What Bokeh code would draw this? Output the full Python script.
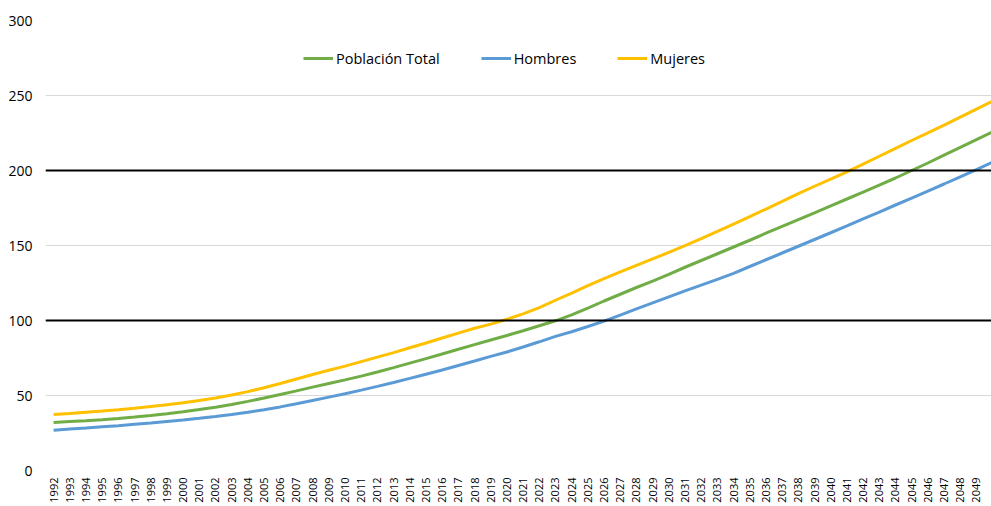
import math
from bokeh.plotting import figure
from bokeh.models import ColumnDataSource, FixedTicker, Span, Legend, LegendItem, Range1d
from bokeh.embed import file_html
from bokeh.resources import INLINE

years = list(range(1992, 2051))

total = [32.0, 32.6, 33.2, 33.9, 34.7, 35.6, 36.7, 37.9, 39.2, 40.6,
         42.2, 44.0, 46.1, 48.3, 50.7, 53.1, 55.6, 58.0, 60.4, 62.9,
         65.7, 68.6, 71.6, 74.6, 77.7, 80.8, 83.9, 87.0, 90.0, 93.2,
         96.5, 99.8, 103.8, 108.2, 113.0, 117.5, 122.0, 126.3, 130.8, 135.5,
         140.0, 144.5, 149.0, 153.5, 158.2, 162.7, 167.3, 171.8, 176.4, 181.0,
         185.6, 190.3, 195.0, 200.0, 205.0, 210.2, 215.4, 220.6, 225.8]

hombres = [26.9, 27.6, 28.3, 29.1, 29.9, 30.8, 31.7, 32.7, 33.7, 34.8,
           36.0, 37.3, 38.8, 40.5, 42.4, 44.5, 46.7, 48.9, 51.2, 53.6,
           56.1, 58.7, 61.4, 64.2, 67.0, 70.0, 73.0, 76.1, 79.0, 82.3,
           85.8, 89.4, 92.5, 96.0, 99.6, 103.6, 107.8, 111.8, 115.8, 119.8,
           123.6, 127.4, 131.4, 136.0, 140.5, 145.0, 149.5, 154.0, 158.5, 163.1,
           167.8, 172.3, 177.0, 181.6, 186.3, 191.0, 195.8, 200.6, 205.6]

mujeres = [37.3, 38.0, 38.8, 39.6, 40.5, 41.5, 42.6, 43.8, 45.1, 46.6,
           48.3, 50.3, 52.6, 55.2, 58.0, 61.0, 64.0, 66.8, 69.6, 72.6,
           75.6, 78.6, 81.8, 85.0, 88.3, 91.6, 94.8, 97.6, 100.8, 104.4,
           108.6, 113.5, 118.3, 123.2, 127.9, 132.4, 136.8, 141.1, 145.4, 149.9,
           154.6, 159.4, 164.3, 169.3, 174.3, 179.4, 184.6, 189.5, 194.3, 199.1,
           204.3, 209.5, 214.8, 220.0, 225.1, 230.3, 235.6, 240.9, 246.3]

series_names = ["Población Total", "Hombres", "Mujeres"]
series_colors = ["#70AD47", "#5B9BD5", "#FFC000"]
ref_levels = [100, 200]
y_ticks = [0, 50, 100, 150, 200, 250, 300]

src = ColumnDataSource(dict(year=years, total=total, hombres=hombres, mujeres=mujeres))

p = figure(width=991, height=506, output_backend="svg", toolbar_location=None,
           x_range=Range1d(1991.5, 2049.93), y_range=Range1d(0, 300),
           min_border_left=45, min_border_right=0, min_border_top=20, min_border_bottom=36)
p.outline_line_color = None
p.background_fill_color = "white"
p.border_fill_color = "white"

# axes
p.xaxis.ticker = FixedTicker(ticks=years)
p.xaxis.major_label_orientation = math.pi / 2
p.xaxis.major_label_text_font = "Open Sans"
p.xaxis.major_label_text_font_size = "11px"
p.xaxis.major_label_text_color = "#000000"
p.xaxis.major_label_standoff = 7
p.xaxis.axis_line_color = None
p.xaxis.major_tick_line_color = None
p.xaxis.minor_tick_line_color = None
p.xaxis.major_tick_out = 0
p.xaxis.major_tick_in = 0
p.xaxis.minor_tick_out = 0

p.yaxis.ticker = FixedTicker(ticks=y_ticks)
p.yaxis.major_label_text_font = "Open Sans"
p.yaxis.major_label_text_font_size = "14px"
p.yaxis.major_label_text_color = "#000000"
p.yaxis.major_label_standoff = 13
p.yaxis.axis_line_color = None
p.yaxis.major_tick_line_color = None
p.yaxis.minor_tick_line_color = None
p.yaxis.major_tick_out = 0
p.yaxis.major_tick_in = 0
p.yaxis.minor_tick_out = 0

p.xgrid.grid_line_color = None
p.ygrid.grid_line_color = "#D9D9D9"
p.ygrid.grid_line_width = 1

for lvl in ref_levels:
    p.add_layout(Span(location=lvl, dimension="width", line_color="black", line_width=2))

renderers = []
for col, name, color in zip(["total", "hombres", "mujeres"], series_names, series_colors):
    r = p.line("year", col, source=src, line_color=color, line_width=3)
    renderers.append(r)

legend = Legend(items=[LegendItem(label=n, renderers=[r]) for n, r in zip(series_names, renderers)],
                orientation="horizontal", location=(258, 402),
                glyph_width=30, glyph_height=20, label_height=20,
                label_standoff=3, spacing=41, padding=0, margin=0,
                border_line_color=None, background_fill_alpha=0,
                label_text_font="Open Sans", label_text_font_size="14.5px",
                label_text_color="#000000")
p.add_layout(legend)

open("out.html", "w").write(file_html(p, INLINE))
